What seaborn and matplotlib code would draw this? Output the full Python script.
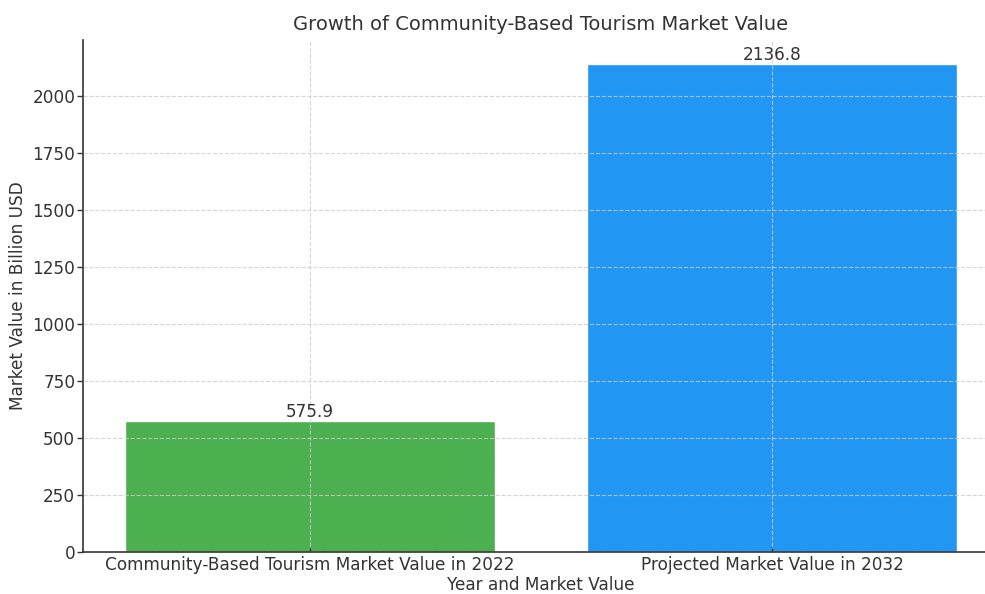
import matplotlib
matplotlib.use("Agg")
import matplotlib.pyplot as plt
import seaborn as sns
import pandas as pd

categories = ["Community-Based Tourism Market Value in 2022", "Projected Market Value in 2032"]
values = [575.9, 2136.8]
colors = ["#4CAF50", "#2196F3"]

sns.set_style("white")
plt.rcParams["font.family"] = ["DejaVu Sans"]
txt = "#333333"
plt.rcParams["text.color"] = txt
plt.rcParams["axes.labelcolor"] = txt
plt.rcParams["xtick.color"] = txt
plt.rcParams["ytick.color"] = txt

df = pd.DataFrame({"cat": categories, "val": values})

fig = plt.figure(figsize=(9.85, 5.94), dpi=100)
ax = fig.add_axes([83 / 985, 42 / 594, (999 - 83) / 985, 512 / 594])
sns.barplot(data=df, x="cat", y="val", hue="cat", palette=colors, legend=False,
            ax=ax, width=0.8, saturation=1)

for i, v in enumerate(values):
    ax.text(i, v, f"{v}", ha="center", va="bottom", fontsize=12.2, color=txt)

ax.set_ylim(0, max(values) * 1.05)
ax.set_xlim(-0.49, 1.49)
ax.set_title("Growth of Community-Based Tourism Market Value", fontsize=14, color=txt, pad=7)
ax.set_xlabel("Year and Market Value", fontsize=12.2, labelpad=1.5)
ax.set_ylabel("Market Value in Billion USD", fontsize=12.2, labelpad=3.5)
ax.tick_params(axis="both", labelsize=12.2, width=1, colors=txt, left=True, bottom=True)
ax.tick_params(axis="y", length=4, pad=1.5, direction="out")
ax.tick_params(axis="x", length=3, pad=3, direction="in")
ax.grid(True, linestyle="--", color="#cccccc", linewidth=0.8, alpha=0.8)
ax.set_axisbelow(False)
for s in ["top", "right"]:
    ax.spines[s].set_visible(False)
for s in ["left", "bottom"]:
    ax.spines[s].set_color(txt)
    ax.spines[s].set_linewidth(1.2)

fig.savefig("out.png", dpi=100)
